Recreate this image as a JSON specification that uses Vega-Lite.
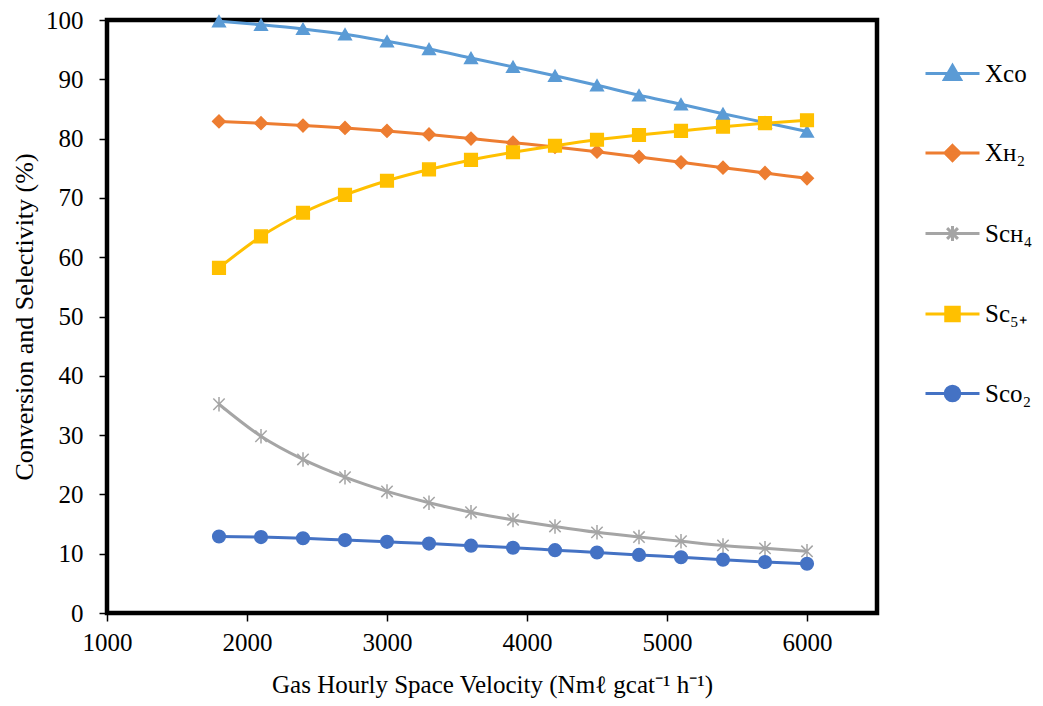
{
  "$schema": "https://vega.github.io/schema/vega-lite/v6.json",
  "autosize": "none",
  "width": 770,
  "height": 593,
  "padding": {"left": 107, "top": 20, "right": 166, "bottom": 93},
  "background": "white",
  "config": {
    "font": "Liberation Serif",
    "view": {"stroke": "black", "strokeWidth": 4.5},
    "axis": {"grid": false, "domain": false, "labelFont": "Liberation Serif", "titleFont": "Liberation Serif", "labelColor": "black", "titleColor": "black", "tickColor": "black", "tickWidth": 1.5, "tickSize": 8, "titleFontWeight": "normal", "labelFlush": false}
  },
  "data": {"values": [
    {"x": 1800, "series": "Xco", "value": 99.8},
    {"x": 2100, "series": "Xco", "value": 99.2},
    {"x": 2400, "series": "Xco", "value": 98.5},
    {"x": 2700, "series": "Xco", "value": 97.6},
    {"x": 3000, "series": "Xco", "value": 96.4},
    {"x": 3300, "series": "Xco", "value": 95.1},
    {"x": 3600, "series": "Xco", "value": 93.6},
    {"x": 3900, "series": "Xco", "value": 92.1},
    {"x": 4200, "series": "Xco", "value": 90.6},
    {"x": 4500, "series": "Xco", "value": 89.0},
    {"x": 4800, "series": "Xco", "value": 87.3},
    {"x": 5100, "series": "Xco", "value": 85.8},
    {"x": 5400, "series": "Xco", "value": 84.2},
    {"x": 5700, "series": "Xco", "value": 82.7},
    {"x": 6000, "series": "Xco", "value": 81.2},
    {"x": 1800, "series": "Xʜ₂", "value": 82.9},
    {"x": 2100, "series": "Xʜ₂", "value": 82.6},
    {"x": 2400, "series": "Xʜ₂", "value": 82.2},
    {"x": 2700, "series": "Xʜ₂", "value": 81.8},
    {"x": 3000, "series": "Xʜ₂", "value": 81.3},
    {"x": 3300, "series": "Xʜ₂", "value": 80.7},
    {"x": 3600, "series": "Xʜ₂", "value": 80.0},
    {"x": 3900, "series": "Xʜ₂", "value": 79.3},
    {"x": 4200, "series": "Xʜ₂", "value": 78.6},
    {"x": 4500, "series": "Xʜ₂", "value": 77.8},
    {"x": 4800, "series": "Xʜ₂", "value": 76.9},
    {"x": 5100, "series": "Xʜ₂", "value": 76.0},
    {"x": 5400, "series": "Xʜ₂", "value": 75.1},
    {"x": 5700, "series": "Xʜ₂", "value": 74.2},
    {"x": 6000, "series": "Xʜ₂", "value": 73.3},
    {"x": 1800, "series": "Scʜ₄", "value": 35.2},
    {"x": 2100, "series": "Scʜ₄", "value": 29.8},
    {"x": 2400, "series": "Scʜ₄", "value": 25.9},
    {"x": 2700, "series": "Scʜ₄", "value": 22.9},
    {"x": 3000, "series": "Scʜ₄", "value": 20.5},
    {"x": 3300, "series": "Scʜ₄", "value": 18.6},
    {"x": 3600, "series": "Scʜ₄", "value": 17.0},
    {"x": 3900, "series": "Scʜ₄", "value": 15.7},
    {"x": 4200, "series": "Scʜ₄", "value": 14.6},
    {"x": 4500, "series": "Scʜ₄", "value": 13.6},
    {"x": 4800, "series": "Scʜ₄", "value": 12.8},
    {"x": 5100, "series": "Scʜ₄", "value": 12.1},
    {"x": 5400, "series": "Scʜ₄", "value": 11.4},
    {"x": 5700, "series": "Scʜ₄", "value": 10.9},
    {"x": 6000, "series": "Scʜ₄", "value": 10.4},
    {"x": 1800, "series": "Sc₅₊", "value": 58.2},
    {"x": 2100, "series": "Sc₅₊", "value": 63.5},
    {"x": 2400, "series": "Sc₅₊", "value": 67.5},
    {"x": 2700, "series": "Sc₅₊", "value": 70.5},
    {"x": 3000, "series": "Sc₅₊", "value": 72.9},
    {"x": 3300, "series": "Sc₅₊", "value": 74.8},
    {"x": 3600, "series": "Sc₅₊", "value": 76.4},
    {"x": 3900, "series": "Sc₅₊", "value": 77.7},
    {"x": 4200, "series": "Sc₅₊", "value": 78.8},
    {"x": 4500, "series": "Sc₅₊", "value": 79.8},
    {"x": 4800, "series": "Sc₅₊", "value": 80.6},
    {"x": 5100, "series": "Sc₅₊", "value": 81.3},
    {"x": 5400, "series": "Sc₅₊", "value": 82.0},
    {"x": 5700, "series": "Sc₅₊", "value": 82.6},
    {"x": 6000, "series": "Sc₅₊", "value": 83.1},
    {"x": 1800, "series": "Sco₂", "value": 12.9},
    {"x": 2100, "series": "Sco₂", "value": 12.8},
    {"x": 2400, "series": "Sco₂", "value": 12.6},
    {"x": 2700, "series": "Sco₂", "value": 12.3},
    {"x": 3000, "series": "Sco₂", "value": 12.0},
    {"x": 3300, "series": "Sco₂", "value": 11.7},
    {"x": 3600, "series": "Sco₂", "value": 11.35},
    {"x": 3900, "series": "Sco₂", "value": 11.0},
    {"x": 4200, "series": "Sco₂", "value": 10.6},
    {"x": 4500, "series": "Sco₂", "value": 10.2},
    {"x": 4800, "series": "Sco₂", "value": 9.8},
    {"x": 5100, "series": "Sco₂", "value": 9.4},
    {"x": 5400, "series": "Sco₂", "value": 9.0},
    {"x": 5700, "series": "Sco₂", "value": 8.6},
    {"x": 6000, "series": "Sco₂", "value": 8.3}
  ]},
  "encoding": {
    "x": {"field": "x", "type": "quantitative",
      "scale": {"domain": [1000, 6500], "nice": false, "zero": false},
      "axis": {"values": [1000, 2000, 3000, 4000, 5000, 6000], "format": "d", "labelFont": "Liberation Serif", "titleFont": "Liberation Serif", "labelFontSize": 25, "labelPadding": 9, "titleFontSize": 25, "titlePadding": 17, "labelFlush": false,
        "title": "Gas Hourly Space Velocity (Nmℓ gcat⁻¹ h⁻¹)"}},
    "y": {"field": "value", "type": "quantitative",
      "scale": {"domain": [0, 100], "nice": false},
      "axis": {"values": [0, 10, 20, 30, 40, 50, 60, 70, 80, 90, 100], "labelFont": "Liberation Serif", "titleFont": "Liberation Serif", "labelFontSize": 25, "labelPadding": 16, "titleFontSize": 26, "titlePadding": 8, "labelFlush": false,
        "title": "Conversion and Selectivity (%)"}}
  },
  "layer": [
    {
      "mark": {"type": "line", "interpolate": "monotone", "strokeWidth": 3},
      "encoding": {
        "stroke": {"field": "series", "type": "nominal", "legend": null,
          "scale": {"domain": ["Xco", "Xʜ₂", "Scʜ₄", "Sc₅₊", "Sco₂"], "range": ["#5B9BD5", "#ED7D31", "#A5A5A5", "#FFC000", "#4472C4"]}}
      }
    },
    {
      "mark": {"type": "point", "filled": true, "size": 160, "strokeWidth": 1.5, "opacity": 1},
      "encoding": {
        "fill": {"field": "series", "type": "nominal", "legend": null,
          "scale": {"domain": ["Xco", "Xʜ₂", "Scʜ₄", "Sc₅₊", "Sco₂"], "range": ["#5B9BD5", "#ED7D31", "#A5A5A5", "#FFC000", "#4472C4"]}},
        "stroke": {"field": "series", "type": "nominal", "legend": null,
          "scale": {"domain": ["Xco", "Xʜ₂", "Scʜ₄", "Sc₅₊", "Sco₂"], "range": ["#5B9BD5", "#ED7D31", "#A5A5A5", "#FFC000", "#4472C4"]}},
        "shape": {"field": "series", "type": "nominal", "legend": null,
          "scale": {"domain": ["Xco", "Xʜ₂", "Scʜ₄", "Sc₅₊", "Sco₂"], "range": ["triangle-up", "diamond", "M-0.9,-0.9L0.9,0.9M-0.9,0.9L0.9,-0.9M0,-1.15V1.15", "square", "circle"]}}
      }
    },
    {
      "transform": [{"filter": "datum.x > 100000"}],
      "mark": {"type": "point", "filled": true, "strokeWidth": 3, "opacity": 1},
      "encoding": {
        "fill": {"field": "series", "type": "nominal", "title": null,
          "scale": {"domain": ["Xco", "Xʜ₂", "Scʜ₄", "Sc₅₊", "Sco₂"], "range": ["#5B9BD5", "#ED7D31", "#A5A5A5", "#FFC000", "#4472C4"]},
          "legend": {"orient": "right", "offset": 22, "padding": 25, "symbolSize": 2916, "symbolStrokeWidth": 3, "rowPadding": 37.5, "labelOffset": 4, "labelFontSize": 25, "labelFont": "Liberation Serif", "labelColor": "black", "symbolOpacity": 1, "labelLimit": 200}},
        "stroke": {"field": "series", "type": "nominal", "title": null,
          "scale": {"domain": ["Xco", "Xʜ₂", "Scʜ₄", "Sc₅₊", "Sco₂"], "range": ["#5B9BD5", "#ED7D31", "#A5A5A5", "#FFC000", "#4472C4"]},
          "legend": {"orient": "right", "offset": 22, "padding": 25, "symbolSize": 2916, "symbolStrokeWidth": 3, "rowPadding": 37.5, "labelOffset": 4, "labelFontSize": 25, "labelFont": "Liberation Serif", "labelColor": "black", "symbolOpacity": 1, "labelLimit": 200}},
        "shape": {"field": "series", "type": "nominal", "title": null,
          "scale": {"domain": ["Xco", "Xʜ₂", "Scʜ₄", "Sc₅₊", "Sco₂"], "range": [
            "M-1,0H1M0,-0.3L0.3,0.22L-0.3,0.22Z",
            "M-1,0H1M0,-0.28L0.28,0L0,0.28L-0.28,0Z",
            "M-1,0H1M-0.2,-0.2L0.2,0.2M-0.2,0.2L0.2,-0.2M0,-0.28V0.28",
            "M-1,0H1M-0.25,-0.25H0.25V0.25H-0.25Z",
            "M-1,0H1M-0.27,0A0.27,0.27,0,1,0,0.27,0A0.27,0.27,0,1,0,-0.27,0Z"]},
          "legend": {"orient": "right", "offset": 22, "padding": 25, "symbolSize": 2916, "symbolStrokeWidth": 3, "rowPadding": 37.5, "labelOffset": 4, "labelFontSize": 25, "labelFont": "Liberation Serif", "labelColor": "black", "symbolOpacity": 1, "labelLimit": 200}}
      }
    }
  ],
  "resolve": {"scale": {"shape": "independent", "fill": "independent", "stroke": "independent"}}
}
